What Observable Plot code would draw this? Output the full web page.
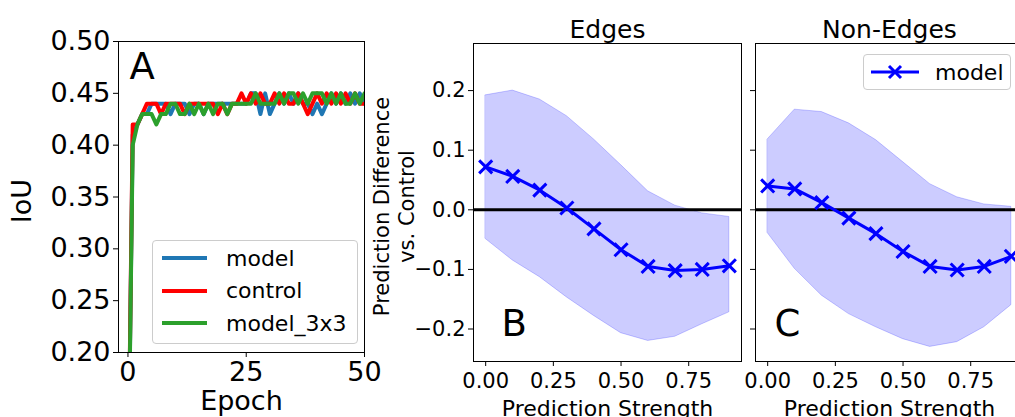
<!DOCTYPE html>
<html><head><meta charset="utf-8">
<script src="https://cdn.jsdelivr.net/npm/d3@7"></script>
<script src="https://cdn.jsdelivr.net/npm/@observablehq/plot@0.6"></script>
<style>
html,body{margin:0;padding:0;background:#fff;overflow:hidden;}
#fig{position:relative;width:1015px;height:417px;overflow:hidden;font-family:"DejaVu Sans",sans-serif;}
.panel{position:absolute;top:0;}
.panel svg{max-width:none !important;}
.legend{position:absolute;background:rgba(255,255,255,0.8);border:1px solid #cccccc;border-radius:4px;box-sizing:border-box;}
.entry{position:absolute;left:0;height:30px;display:flex;align-items:center;}
.entry span{font-size:22px;color:#000;white-space:nowrap;}
</style></head>
<body><div id="fig"></div>
<script>
// ---------- data ----------
const epochs = d3.range(0, 51);
const iouModel = [0.05,0.41,0.42,0.43,0.43,0.44,0.44,0.44,0.44,0.43,0.44,0.44,0.44,0.43,0.44,0.44,0.43,0.44,0.44,0.44,0.44,0.44,0.44,0.44,0.44,0.44,0.45,0.45,0.43,0.45,0.43,0.44,0.45,0.44,0.45,0.44,0.45,0.44,0.44,0.43,0.44,0.43,0.44,0.45,0.44,0.45,0.44,0.45,0.44,0.45,0.44];
const iouControl = [0.05,0.42,0.42,0.43,0.44,0.44,0.44,0.43,0.44,0.44,0.44,0.44,0.43,0.44,0.44,0.44,0.44,0.44,0.44,0.43,0.44,0.43,0.44,0.44,0.45,0.44,0.45,0.44,0.45,0.44,0.44,0.45,0.44,0.45,0.44,0.44,0.45,0.44,0.43,0.44,0.45,0.44,0.45,0.44,0.45,0.44,0.45,0.44,0.45,0.44,0.44];
const iouModel3x3 = [0.05,0.40,0.42,0.43,0.43,0.43,0.42,0.43,0.43,0.44,0.44,0.43,0.43,0.44,0.43,0.44,0.43,0.44,0.43,0.44,0.44,0.43,0.44,0.44,0.44,0.44,0.44,0.45,0.44,0.44,0.44,0.44,0.45,0.44,0.45,0.45,0.44,0.45,0.44,0.45,0.45,0.45,0.44,0.45,0.44,0.45,0.44,0.44,0.45,0.44,0.45];
const runNames = ["model", "control", "model_3x3"];
const runColors = ["#1f77b4", "#ff0000", "#2ca02c"];

const strength = [0.0,0.1,0.2,0.3,0.4,0.5,0.6,0.7,0.8,0.9];
const edgesMean = [0.072,0.056,0.033,0.003,-0.032,-0.067,-0.095,-0.102,-0.100,-0.094];
const edgesHigh = [0.192,0.200,0.185,0.157,0.118,0.075,0.031,0.007,-0.006,-0.012];
const edgesLow  = [-0.049,-0.085,-0.113,-0.147,-0.178,-0.207,-0.220,-0.213,-0.192,-0.172];
const nonEdgesMean = [0.040,0.035,0.012,-0.014,-0.040,-0.070,-0.095,-0.101,-0.095,-0.078];
const nonEdgesHigh = [0.118,0.168,0.164,0.145,0.117,0.080,0.043,0.021,0.009,0.005];
const nonEdgesLow  = [-0.039,-0.099,-0.144,-0.175,-0.197,-0.217,-0.230,-0.222,-0.197,-0.160];

const epochTicks = [0, 25, 50];
const iouTicks = [0.20, 0.25, 0.30, 0.35, 0.40, 0.45, 0.50];
const diffTicks = [-0.2, -0.1, 0.0, 0.1, 0.2];
const strengthTicks = [0, 0.25, 0.5, 0.75];

// ---------- tables ----------
const runSeries = [iouModel, iouControl, iouModel3x3];
const rowsA = runSeries.flatMap((vals, k) => vals.map((v, i) => ({epoch: epochs[i], iou: v, run: runNames[k]})));
const rowsB = strength.map((s, i) => ({s, m: edgesMean[i], lo: edgesLow[i], hi: edgesHigh[i]}));
const rowsC = strength.map((s, i) => ({s, m: nonEdgesMean[i], lo: nonEdgesLow[i], hi: nonEdgesHigh[i]}));

const fig = document.getElementById("fig");
function place(el, left, width) {
  const d = document.createElement("div");
  d.className = "panel"; d.style.left = left + "px"; d.style.width = width + "px";
  d.appendChild(el); fig.appendChild(d);
}
const baseStyle = {fontFamily: "DejaVu Sans", color: "black", background: "transparent", overflow: "visible", maxWidth: "none"};

// ---------- Panel A ----------
const plotA = Plot.plot({
  width: 370, height: 417,
  marginLeft: 118, marginRight: 6, marginTop: 41, marginBottom: 65,
  style: {...baseStyle, fontSize: "27px"},
  x: {domain: [-2, 50]},
  y: {domain: [0.2, 0.5]},
  color: {domain: runNames, range: runColors},
  marks: [
    Plot.line(rowsA, {x: "epoch", y: "iou", stroke: "run", z: "run", strokeWidth: 4, clip: true}),
    Plot.frame({stroke: "black", strokeWidth: 1}),
    Plot.axisX({ticks: epochTicks, tickSize: 5, tickPadding: 4, label: null, fontSize: 27}),
    Plot.axisY({ticks: iouTicks, tickFormat: d3.format(".2f"), tickSize: 5, tickPadding: 3, label: null, fontSize: 27}),
    Plot.text(["Epoch"], {frameAnchor: "bottom", lineAnchor: "middle", textAnchor: "middle", dy: 49, fontSize: 27}),
    Plot.text(["IoU"], {frameAnchor: "left", lineAnchor: "middle", textAnchor: "middle", rotate: -90, dx: -96, dy: 4, fontSize: 27}),
    Plot.text(["A"], {frameAnchor: "top-left", textAnchor: "start", lineAnchor: "top", dx: 11, dy: 11, fontSize: 37})
  ]
});
place(plotA, 0, 370);

// ---------- Panels B and C ----------
function diffPanel(rows, opts) {
  return Plot.plot({
    width: opts.width, height: 417,
    marginLeft: opts.ml, marginRight: opts.mr, marginTop: 43, marginBottom: 56,
    style: {...baseStyle, fontSize: "21px"},
    x: {domain: [-0.045, 0.945]},
    y: {domain: [-0.2545, 0.279]},
    marks: [
      Plot.areaY(rows, {x: "s", y1: "lo", y2: "hi", fill: "blue", fillOpacity: 0.2, stroke: "blue", strokeOpacity: 0.2, strokeWidth: 1}),
      Plot.ruleY([0], {stroke: "black", strokeWidth: 3}),
      Plot.line(rows, {x: "s", y: "m", stroke: "blue", strokeWidth: 3}),
      Plot.dot(rows, {x: "s", y: "m", symbol: "times", r: 6, stroke: "blue", strokeWidth: 3}),
      Plot.frame({stroke: "black", strokeWidth: 1}),
      Plot.axisX({ticks: strengthTicks, tickFormat: d3.format(".2f"), tickSize: 5, tickPadding: 7, label: null, fontSize: 21}),
      opts.yLabels
        ? Plot.axisY({ticks: diffTicks, tickFormat: d3.format(".1f"), tickSize: 5, tickPadding: 3, label: null, fontSize: 21})
        : Plot.axisY({ticks: diffTicks, tickFormat: () => "", tickSize: 5, label: null}),
      Plot.text(["Prediction Strength"], {frameAnchor: "bottom", lineAnchor: "middle", textAnchor: "middle", dy: 47, fontSize: 22}),
      Plot.text([opts.title], {frameAnchor: "top", lineAnchor: "bottom", textAnchor: "middle", dy: -6, fontSize: 25}),
      Plot.text([opts.letter], {frameAnchor: "bottom-left", textAnchor: "start", lineAnchor: "middle", dx: opts.letterDx, dy: -37, fontSize: 37}),
      opts.yLabels
        ? Plot.text(["Prediction Difference\nvs. Control"], {frameAnchor: "left", lineAnchor: "middle", textAnchor: "middle", rotate: -90, dx: -80, dy: 4, fontSize: 21, lineHeight: 1.2})
        : null
    ]
  });
}
place(diffPanel(rowsB, {width: 380, ml: 103, mr: 9, title: "Edges", letter: "B", letterDx: 28, yLabels: true}), 370, 380);
place(diffPanel(rowsC, {width: 280, ml: 5, mr: 7, title: "Non-Edges", letter: "C", letterDx: 19, yLabels: false}), 750, 280);

// ---------- legends ----------
function legendA() {
  const box = document.createElement("div");
  box.className = "legend";
  Object.assign(box.style, {left: "152px", top: "240px", width: "206px", height: "104px"});
  runNames.forEach((name, i) => {
    const e = document.createElement("div");
    e.className = "entry";
    e.style.top = (2 + i * 32.5) + "px";
    e.style.left = "9px";
    e.innerHTML = `<svg width="46" height="30"><line x1="0" x2="45" y1="15" y2="15" stroke="${runColors[i]}" stroke-width="4"/></svg><span style="margin-left:18px">${name}</span>`;
    box.appendChild(e);
  });
  fig.appendChild(box);
}
function legendC() {
  const box = document.createElement("div");
  box.className = "legend";
  Object.assign(box.style, {left: "863px", top: "54px", width: "148px", height: "36px"});
  const e = document.createElement("div");
  e.className = "entry";
  e.style.top = "2px"; e.style.left = "6px";
  e.innerHTML = `<svg width="50" height="30"><line x1="1" x2="49" y1="15" y2="15" stroke="blue" stroke-width="3"/><path d="M19,9L31,21M31,9L19,21" stroke="blue" stroke-width="3"/></svg><span style="margin-left:15px">model</span>`;
  box.appendChild(e);
  fig.appendChild(box);
}
legendA();
legendC();
</script>
</body></html>
